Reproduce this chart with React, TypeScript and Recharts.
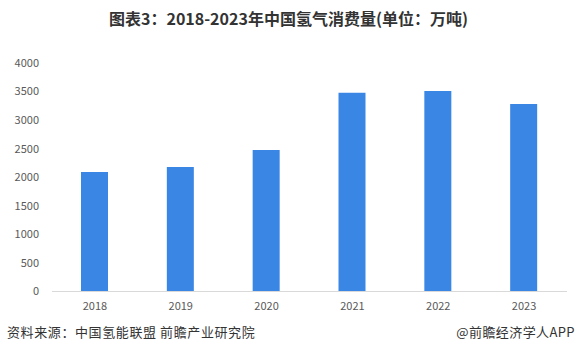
import React from "react";
import { BarChart, Bar, XAxis, YAxis } from "recharts";

const years = ["2018", "2019", "2020", "2021", "2022", "2023"];
const consumption = [2092, 2180, 2477, 3480, 3510, 3282];
const yTicks = [0, 500, 1000, 1500, 2000, 2500, 3000, 3500, 4000];

const title = "图表3：2018-2023年中国氢气消费量(单位：万吨)";
const source = "资料来源：中国氢能联盟 前瞻产业研究院";
const credit = "@前瞻经济学人APP";

const data = years.map((y, i) => ({ year: y, value: consumption[i] }));

const font = "'Noto Sans CJK SC', 'Liberation Sans', sans-serif";

export default function App() {
  return (
    <div style={{ position: "absolute", left: 0, top: 0, width: 577, height: 358, background: "#fff", fontFamily: font }}>
      <div style={{ position: "absolute", left: 0, top: 6, width: 577, textAlign: "center", fontSize: 16, fontWeight: "bold", color: "#333", lineHeight: "24px" }}>
        {title}
      </div>
      <div style={{ position: "absolute", left: 0, top: 0 }}>
        <BarChart width={577} height={358} data={data} margin={{ top: 63, right: 10, bottom: 36.5, left: 0 }}>
          <YAxis
            type="number"
            domain={[0, 4000]}
            ticks={yTicks}
            width={52}
            axisLine={false}
            tickLine={false}
            tickSize={0}
            tickMargin={13}
            tick={{ fontSize: 11, fill: "#595959", fontFamily: font }}
            interval={0}
          />
          <XAxis
            dataKey="year"
            axisLine={{ stroke: "#d9d9d9" }}
            tickLine={false}
            tickMargin={5}
            tick={{ fontSize: 11, fill: "#595959", fontFamily: font }}
            interval={0}
          />
          <Bar dataKey="value" fill="#3a86e4" barSize={27} isAnimationActive={false} />
        </BarChart>
      </div>
      <div style={{ position: "absolute", left: 7, top: 323, fontSize: 13, color: "#333", lineHeight: "18px", whiteSpace: "nowrap", letterSpacing: 0.6 }}>
        {source}
      </div>
      <div style={{ position: "absolute", right: 2, top: 323, fontSize: 13, color: "#333", lineHeight: "18px", whiteSpace: "nowrap", letterSpacing: 0.4 }}>
        {credit}
      </div>
    </div>
  );
}
